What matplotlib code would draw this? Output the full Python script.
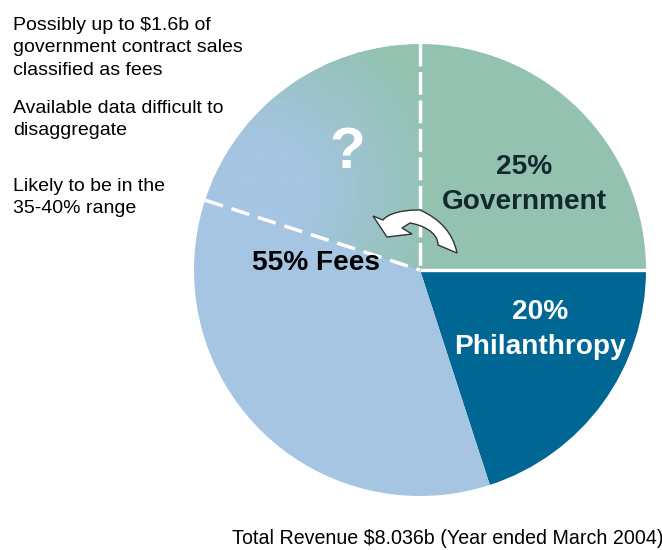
import numpy as np
import matplotlib
matplotlib.use("Agg")
import matplotlib.pyplot as plt
from matplotlib.colors import LinearSegmentedColormap
from matplotlib.patches import Wedge, PathPatch
from matplotlib.path import Path

plt.rcParams['font.family'] = ['Liberation Sans', 'DejaVu Sans']

# Revenue shares, clockwise from twelve o'clock
segments = ["Government", "Philanthropy", "Fees"]
shares = [25, 20, 55]
segment_colors = ["#93c2b0", "#006795", "#a5c5e3"]
uncertain_share = 20  # part of the fees that may really be government sales

notes = [
    "Possibly up to $1.6b of\ngovernment contract sales\nclassified as fees",
    "Available data difficult to\ndisaggregate",
    "Likely to be in the\n35-40% range",
]
note_tops = [17, 100, 178]
footer = "Total Revenue $8.036b (Year ended March 2004)"

BLUE, GREEN = "#a5c5e3", "#93c2b0"
CX, CY, R = 420, 280, 226

fig = plt.figure(figsize=(6.62, 5.5), dpi=100)
ax = fig.add_axes([0, 0, 1, 1])

wedges, _ = ax.pie(shares, colors=segment_colors, startangle=90, counterclock=False,
                   center=(CX, CY), radius=R, frame=True,
                   wedgeprops=dict(linewidth=0))

# Angle where the uncertain part of the fees ends
theta_end = 90 + 360 * uncertain_share / 100

# Blue-to-green fill of the uncertain wedge
xs, ys = np.meshgrid(np.linspace(CX - R, CX, 300), np.linspace(CY, CY + R, 300))
dist = np.hypot(xs - 262, ys - 360)
fade = np.clip((dist - 45) / 140, 0, 1)
cmap = LinearSegmentedColormap.from_list("fade", [BLUE, GREEN])
img = ax.imshow(fade, cmap=cmap, vmin=0, vmax=1, origin="lower", aspect="equal",
                extent=(CX - R, CX, CY, CY + R), zorder=2)
clip = Wedge((CX, CY), R, 90, theta_end, transform=ax.transData, facecolor="none", linewidth=0)
ax.add_patch(clip)
img.set_clip_path(clip)

# Solid divider on the horizontal edge, dashes around the uncertain wedge
ax.plot([CX, CX + R], [CY, CY], color="white", lw=2.4, zorder=3, solid_capstyle="butt")
ax.plot([CX, CX], [CY + R + 1, CY - 1], color="white", lw=2.5, zorder=3, dashes=(6.6, 1.6))
rad = np.radians(theta_end)
ax.plot([CX + R * np.cos(rad), CX], [CY + R * np.sin(rad), CY], color="white",
        lw=2.5, zorder=3, dashes=(5.4, 2.6))
arc_t = np.radians(np.linspace(90, theta_end, 200))
ax.plot(CX + (R + 1) * np.cos(arc_t), CY + (R + 1) * np.sin(arc_t), color="white",
        lw=1.4, zorder=3, dashes=(14, 3))

# Curved arrow showing the reallocation from fees to government
arrow_pts = [(373, 334), (383, 330),
             (392, 341), (420, 340), (420, 340),
             (440, 331), (453, 317), (457, 297),
             (438, 305),
             (438, 318), (422, 325), (410, 327),
             (402, 322),
             (412, 316),
             (387, 313),
             (373, 334)]
arrow_codes = [Path.MOVETO, Path.LINETO,
               Path.CURVE4, Path.CURVE4, Path.CURVE4,
               Path.CURVE4, Path.CURVE4, Path.CURVE4,
               Path.LINETO,
               Path.CURVE4, Path.CURVE4, Path.CURVE4,
               Path.LINETO,
               Path.LINETO,
               Path.LINETO,
               Path.CLOSEPOLY]
ax.add_patch(PathPatch(Path(arrow_pts, arrow_codes), facecolor="white",
                       edgecolor="#333333", linewidth=1.0, zorder=4))

ax.text(347, 397, "?", color="white", fontsize=42, fontweight="bold",
        ha="center", va="center", zorder=5)

dark = "#14292c"
bold = dict(fontsize=20.2, fontweight="bold", ha="center", va="center", zorder=5)
ax.text(524, 383, "25%", color=dark, **bold)
ax.text(524, 348, segments[0], color=dark, **bold)
ax.text(540, 238, "20%", color="white", **bold)
ax.text(540, 203, segments[1], color="white", **bold)
ax.text(316, 287, "55% " + segments[2], color="black", **bold)

for note, top in zip(notes, note_tops):
    ax.text(13, 550 - top, note, color="black", fontsize=14, ha="left", va="top",
            linespacing=1.42, zorder=5)

ax.text(232, 12, footer, color="black", fontsize=14.1, ha="left", va="center", zorder=5)

ax.set_xlim(0, 662)
ax.set_ylim(0, 550)
ax.set_aspect("equal")
ax.axis("off")
fig.savefig("out.png", dpi=100, facecolor="white")
